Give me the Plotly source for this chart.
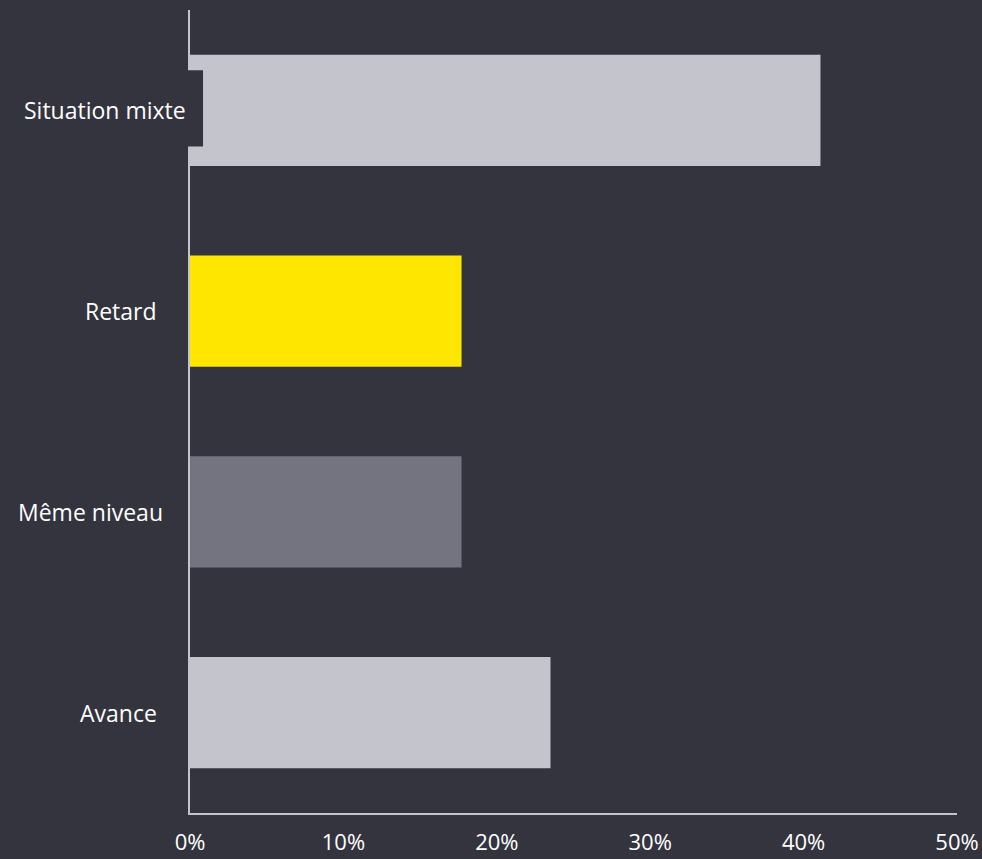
import plotly.graph_objects as go

categories = ["Avance", "Même niveau", "Retard", "Situation mixte"]
values = [23.5, 17.7, 17.7, 41.1]
colors = ["#c4c4cd", "#747480", "#ffe600", "#c4c4cd"]
tick_vals = [0, 10, 20, 30, 40, 50]
tick_text = ["0%", "10%", "20%", "30%", "40%", "50%"]
label_x = [-0.0404, -0.0326, -0.0404, -0.0026]

BG = "#34343e"
FONT = "Open Sans, Segoe UI, sans-serif"

fig = go.Figure()
fig.add_trace(go.Bar(
    x=values, y=categories, orientation="h",
    marker=dict(color=colors, line=dict(width=0)),
    width=0.555, hoverinfo="skip",
))

for cat, lx in zip(categories, label_x):
    fig.add_annotation(
        x=lx, xref="paper", y=cat, yref="y", text=cat, showarrow=False,
        xanchor="right", yanchor="middle",
        font=dict(family=FONT, size=23, color="#ffffff"),
    )

# dark label box overlapping the first bar
fig.add_shape(type="rect", xref="paper", yref="y",
              x0=-0.2, x1=0.017, y0=2.82, y1=3.2,
              fillcolor=BG, line=dict(width=0), layer="above")

fig.update_layout(
    width=982, height=859,
    paper_bgcolor=BG, plot_bgcolor=BG,
    margin=dict(l=190, r=25, t=10, b=46),
    showlegend=False,
    bargap=0.445,
    xaxis=dict(range=[0, 50], tickvals=tick_vals, ticktext=tick_text,
               showgrid=False, zeroline=False, automargin=False,
               showline=True, linecolor="#c4c4cd", linewidth=2,
               ticks="outside", ticklen=9, tickcolor="rgba(0,0,0,0)",
               tickfont=dict(family=FONT, size=22, color="#ffffff")),
    yaxis=dict(range=[-0.5, 3.5], categoryorder="array", categoryarray=categories,
               showgrid=False, zeroline=False, showticklabels=False, automargin=False,
               showline=True, linecolor="#c4c4cd", linewidth=2, ticks=""),
)

fig.write_html(
    "out.html",
    config={"displayModeBar": False},
    post_script="document.body.style.margin='0';document.body.style.background='" + BG + "';",
)
